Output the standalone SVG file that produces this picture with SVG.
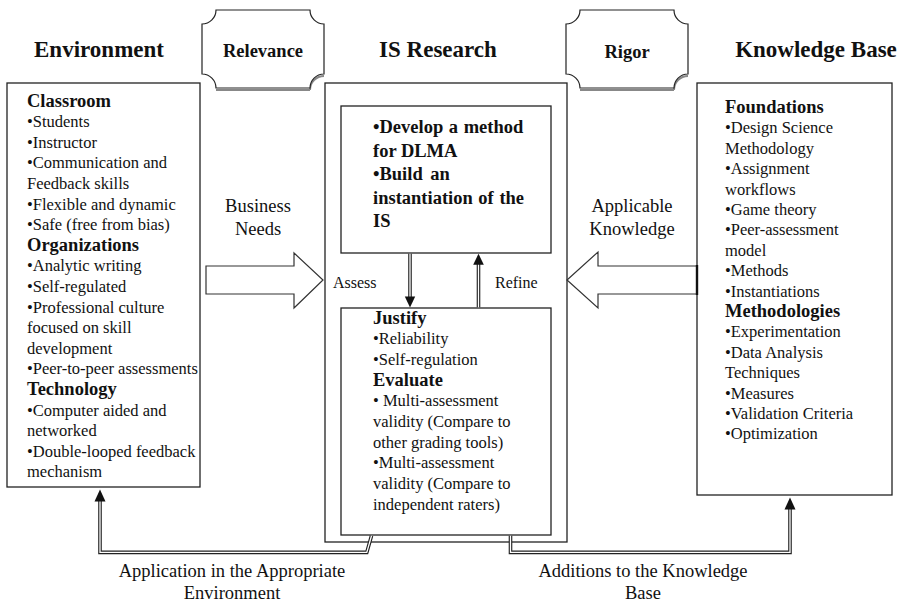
<svg xmlns="http://www.w3.org/2000/svg" width="906" height="605" viewBox="0 0 906 605">
  <style>
    text { font-family: "Liberation Serif", "Times New Roman", serif; fill: #111; }
    .title { font-size: 23px; font-weight: bold; text-anchor: middle; }
    .plaque-label { font-size: 18.5px; font-weight: bold; text-anchor: middle; }
    .head { font-size: 18.5px; font-weight: bold; }
    .body { font-size: 16.5px; }
    .lead { font-size: 18.5px; font-weight: bold; }
    .label { font-size: 18.5px; text-anchor: middle; }
    .small { font-size: 16px; }
    .box { fill: #fff; stroke: #222; stroke-width: 1.3; }
    .plaque { fill: #fff; stroke: #222; stroke-width: 1.2; }
    .plaque-shadow { fill: none; stroke: #888; stroke-width: 2; }
    .fat { fill: #fff; stroke: #333; stroke-width: 1.2; stroke-linejoin: miter; }
    .dbl { fill: none; stroke: #222; stroke-width: 3.6; stroke-linejoin: miter; }
    .dbl-in { fill: none; stroke: #fff; stroke-width: 1.3; stroke-linejoin: miter; }
    .head-fill { fill: #111; stroke: none; }
  </style>

  <!-- Column titles -->
  <g id="titles">
    <text class="title" x="99" y="57">Environment</text>
    <text class="title" x="438" y="57">IS Research</text>
    <text class="title" x="816" y="57">Knowledge Base</text>
  </g>

  <!-- Relevance plaque -->
  <g id="relevance">
    <path class="plaque-shadow" d="M216,90 H310 M324,76 A14,14 0 0 0 310,90"/>
    <path class="plaque" d="M216,10 H310 A14,14 0 0 0 324,24 V74 A14,14 0 0 0 310,88 H216 A14,14 0 0 0 202,74 V24 A14,14 0 0 0 216,10 Z"/>
    <text class="plaque-label" x="263" y="57">Relevance</text>
  </g>

  <!-- Rigor plaque -->
  <g id="rigor">
    <path class="plaque-shadow" d="M580,90 H674 M688,76 A14,14 0 0 0 674,90"/>
    <path class="plaque" d="M580,10 H674 A14,14 0 0 0 688,24 V74 A14,14 0 0 0 674,88 H580 A14,14 0 0 0 566,74 V24 A14,14 0 0 0 580,10 Z"/>
    <text class="plaque-label" x="627" y="58">Rigor</text>
  </g>

  <!-- Environment box -->
  <g id="environment">
    <rect class="box" x="7" y="83" width="193" height="404"/>
    <text class="head" x="27" y="106.5">Classroom</text>
    <text class="body" x="27" y="127.1">•Students</text>
    <text class="body" x="27" y="147.7">•Instructor</text>
    <text class="body" x="27" y="168.3">•Communication and</text>
    <text class="body" x="27" y="188.9">Feedback skills</text>
    <text class="body" x="27" y="209.5">•Flexible and dynamic</text>
    <text class="body" x="27" y="230.1">•Safe (free from bias)</text>
    <text class="head" x="27" y="250.7">Organizations</text>
    <text class="body" x="27" y="271.3">•Analytic writing</text>
    <text class="body" x="27" y="291.9">•Self-regulated</text>
    <text class="body" x="27" y="312.5">•Professional culture</text>
    <text class="body" x="27" y="333.1">focused on skill</text>
    <text class="body" x="27" y="353.7">development</text>
    <text class="body" x="27" y="374.3">•Peer-to-peer assessments</text>
    <text class="head" x="27" y="394.9">Technology</text>
    <text class="body" x="27" y="415.5">•Computer aided and</text>
    <text class="body" x="27" y="436.1">networked</text>
    <text class="body" x="27" y="456.7">•Double-looped feedback</text>
    <text class="body" x="27" y="477.3">mechanism</text>
  </g>

  <!-- IS Research frame -->
  <g id="is-research">
    <rect class="box" x="325" y="83" width="242" height="459"/>
  </g>

  <!-- Build activities -->
  <g id="develop-build">
    <rect class="box" x="341" y="106" width="210" height="147"/>
    <text class="lead" x="373" y="133" word-spacing="1">•Develop a method</text>
    <text class="lead" x="373" y="156.5">for DLMA</text>
    <text class="lead" x="373" y="180" word-spacing="3">•Build an</text>
    <text class="lead" x="373" y="203.5" word-spacing="1">instantiation of the</text>
    <text class="lead" x="373" y="227">IS</text>
  </g>

  <!-- Justify / evaluate activities -->
  <g id="justify-evaluate">
    <rect class="box" x="341" y="308" width="210" height="227"/>
    <text class="head" x="373" y="323.5">Justify</text>
    <text class="body" x="373" y="344.2">•Reliability</text>
    <text class="body" x="373" y="364.9">•Self-regulation</text>
    <text class="head" x="373" y="385.6">Evaluate</text>
    <text class="body" x="373" y="406.3">• Multi-assessment</text>
    <text class="body" x="373" y="427">validity (Compare to</text>
    <text class="body" x="373" y="447.7">other grading tools)</text>
    <text class="body" x="373" y="468.4">•Multi-assessment</text>
    <text class="body" x="373" y="489.1">validity (Compare to</text>
    <text class="body" x="373" y="509.8">independent raters)</text>
  </g>

  <!-- Knowledge base box -->
  <g id="knowledge-base">
    <rect class="box" x="697" y="83" width="195" height="412"/>
    <text class="head" x="725" y="113">Foundations</text>
    <text class="body" x="725" y="133.4">•Design Science</text>
    <text class="body" x="725" y="153.8">Methodology</text>
    <text class="body" x="725" y="174.2">•Assignment</text>
    <text class="body" x="725" y="194.6">workflows</text>
    <text class="body" x="725" y="215">•Game theory</text>
    <text class="body" x="725" y="235.4">•Peer-assessment</text>
    <text class="body" x="725" y="255.8">model</text>
    <text class="body" x="725" y="276.2">•Methods</text>
    <text class="body" x="725" y="296.6">•Instantiations</text>
    <text class="head" x="725" y="317">Methodologies</text>
    <text class="body" x="725" y="337.4">•Experimentation</text>
    <text class="body" x="725" y="357.8">•Data Analysis</text>
    <text class="body" x="725" y="378.2">Techniques</text>
    <text class="body" x="725" y="398.6">•Measures</text>
    <text class="body" x="725" y="419">•Validation Criteria</text>
    <text class="body" x="725" y="439.4">•Optimization</text>
  </g>

  <!-- Connectors -->
  <g id="connectors">
    <!-- Business needs (block arrow) -->
    <polygon class="fat" points="206,266 294,266 294,253 323,280 294,308 294,294 206,294"/>
    <text class="label" x="258" y="212">Business</text>
    <text class="label" x="258" y="235">Needs</text>

    <!-- Applicable knowledge (block arrow) -->
    <polygon class="fat" points="697,266 598,266 598,252 567,280 598,308 598,294 697,294"/>
    <line x1="697" y1="265" x2="697" y2="295" stroke="#111" stroke-width="2.4"/>
    <text class="label" x="632" y="212">Applicable</text>
    <text class="label" x="632" y="235">Knowledge</text>

    <!-- Assess (down) -->
    <path class="dbl" d="M410,253.7 V298"/>
    <path class="dbl-in" d="M410,253.7 V298"/>
    <polygon class="head-fill" points="410,307.5 404.8,296.5 415.2,296.5"/>
    <text class="small" x="333" y="288">Assess</text>

    <!-- Refine (up) -->
    <path class="dbl" d="M478.5,307.3 V263"/>
    <path class="dbl-in" d="M478.5,307.3 V263"/>
    <polygon class="head-fill" points="478.5,253.7 473.2,264.7 483.8,264.7"/>
    <text class="small" x="495" y="288">Refine</text>

    <!-- Application in the appropriate environment -->
    <path class="dbl" d="M371.5,535.7 L366.8,552.4 H100 V500"/>
    <path class="dbl-in" d="M371.5,535.7 L366.8,552.4 H100 V500"/>
    <polygon class="head-fill" points="100,489.5 94.5,501.5 105.5,501.5"/>
    <text class="label" x="232" y="577">Application in the Appropriate</text>
    <text class="label" x="232" y="599">Environment</text>

    <!-- Additions to the knowledge base -->
    <path class="dbl" d="M510.5,535.7 V552.4 H790 V508"/>
    <path class="dbl-in" d="M510.5,535.7 V552.4 H790 V508"/>
    <polygon class="head-fill" points="790,497.5 784.5,509.5 795.5,509.5"/>
    <text class="label" x="643" y="577">Additions to the Knowledge</text>
    <text class="label" x="643" y="599">Base</text>
  </g>
</svg>
